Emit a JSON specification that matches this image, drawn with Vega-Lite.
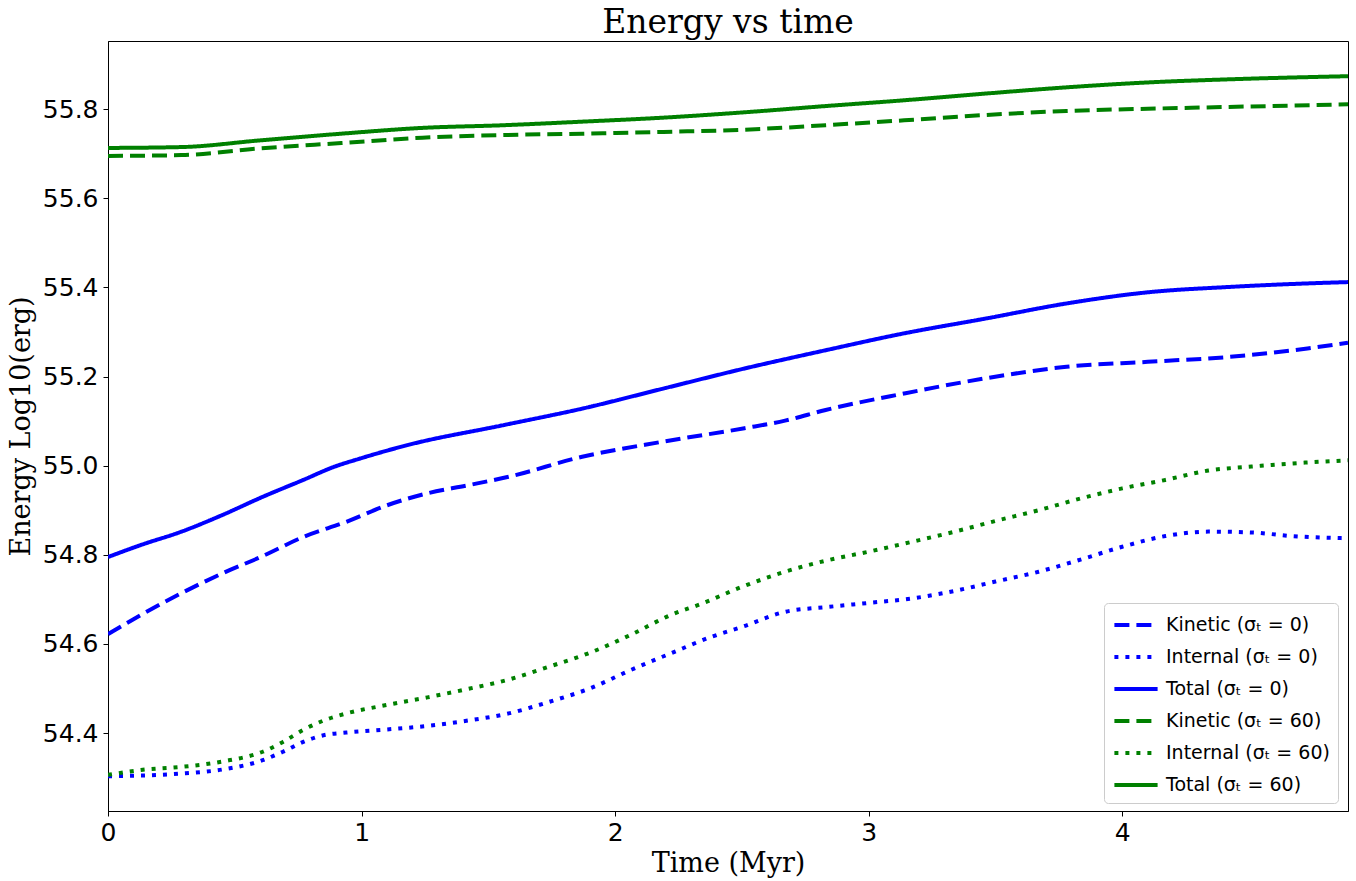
{
  "$schema": "https://vega.github.io/schema/vega-lite/v6.json",
  "width": 1240,
  "height": 770,
  "autosize": "none",
  "padding": {"left": 108, "top": 41, "right": 8, "bottom": 70},
  "background": "white",
  "title": {"text": "Energy vs time", "font": "DejaVu Serif", "fontSize": 33, "fontWeight": "normal", "color": "black", "offset": 1, "anchor": "middle"},
  "config": {
    "view": {"stroke": "black", "strokeWidth": 1},
    "axis": {"grid": false, "domainColor": "black", "tickColor": "black", "labelColor": "black", "titleColor": "black", "labelFont": "DejaVu Sans", "labelFontSize": 25, "titleFont": "DejaVu Serif", "titleFontSize": 27, "titleFontWeight": "normal", "tickSize": 5, "tickWidth": 1, "domainWidth": 1, "labelFlush": false}
  },
  "data": {"values": [
    {"s": "Kinetic (σₜ = 0)", "t": 0, "v": 54.622},
    {"s": "Kinetic (σₜ = 0)", "t": 0.13, "v": 54.665},
    {"s": "Kinetic (σₜ = 0)", "t": 0.29, "v": 54.714},
    {"s": "Kinetic (σₜ = 0)", "t": 0.45, "v": 54.758},
    {"s": "Kinetic (σₜ = 0)", "t": 0.61, "v": 54.797},
    {"s": "Kinetic (σₜ = 0)", "t": 0.77, "v": 54.840},
    {"s": "Kinetic (σₜ = 0)", "t": 0.94, "v": 54.874},
    {"s": "Kinetic (σₜ = 0)", "t": 1.10, "v": 54.911},
    {"s": "Kinetic (σₜ = 0)", "t": 1.26, "v": 54.938},
    {"s": "Kinetic (σₜ = 0)", "t": 1.42, "v": 54.956},
    {"s": "Kinetic (σₜ = 0)", "t": 1.58, "v": 54.975},
    {"s": "Kinetic (σₜ = 0)", "t": 1.87, "v": 55.020},
    {"s": "Kinetic (σₜ = 0)", "t": 2.19, "v": 55.054},
    {"s": "Kinetic (σₜ = 0)", "t": 2.51, "v": 55.084},
    {"s": "Kinetic (σₜ = 0)", "t": 2.67, "v": 55.101},
    {"s": "Kinetic (σₜ = 0)", "t": 2.83, "v": 55.125},
    {"s": "Kinetic (σₜ = 0)", "t": 3.14, "v": 55.162},
    {"s": "Kinetic (σₜ = 0)", "t": 3.46, "v": 55.196},
    {"s": "Kinetic (σₜ = 0)", "t": 3.78, "v": 55.222},
    {"s": "Kinetic (σₜ = 0)", "t": 4.10, "v": 55.233},
    {"s": "Kinetic (σₜ = 0)", "t": 4.42, "v": 55.244},
    {"s": "Kinetic (σₜ = 0)", "t": 4.73, "v": 55.263},
    {"s": "Kinetic (σₜ = 0)", "t": 4.89, "v": 55.276},

    {"s": "Internal (σₜ = 0)", "t": 0, "v": 54.303},
    {"s": "Internal (σₜ = 0)", "t": 0.29, "v": 54.309},
    {"s": "Internal (σₜ = 0)", "t": 0.45, "v": 54.318},
    {"s": "Internal (σₜ = 0)", "t": 0.61, "v": 54.339},
    {"s": "Internal (σₜ = 0)", "t": 0.69, "v": 54.358},
    {"s": "Internal (σₜ = 0)", "t": 0.77, "v": 54.380},
    {"s": "Internal (σₜ = 0)", "t": 0.85, "v": 54.395},
    {"s": "Internal (σₜ = 0)", "t": 0.94, "v": 54.401},
    {"s": "Internal (σₜ = 0)", "t": 1.10, "v": 54.408},
    {"s": "Internal (σₜ = 0)", "t": 1.26, "v": 54.416},
    {"s": "Internal (σₜ = 0)", "t": 1.42, "v": 54.428},
    {"s": "Internal (σₜ = 0)", "t": 1.58, "v": 54.444},
    {"s": "Internal (σₜ = 0)", "t": 1.74, "v": 54.470},
    {"s": "Internal (σₜ = 0)", "t": 1.90, "v": 54.500},
    {"s": "Internal (σₜ = 0)", "t": 2.06, "v": 54.541},
    {"s": "Internal (σₜ = 0)", "t": 2.22, "v": 54.579},
    {"s": "Internal (σₜ = 0)", "t": 2.38, "v": 54.616},
    {"s": "Internal (σₜ = 0)", "t": 2.50, "v": 54.638},
    {"s": "Internal (σₜ = 0)", "t": 2.67, "v": 54.672},
    {"s": "Internal (σₜ = 0)", "t": 2.84, "v": 54.683},
    {"s": "Internal (σₜ = 0)", "t": 3.00, "v": 54.692},
    {"s": "Internal (σₜ = 0)", "t": 3.17, "v": 54.702},
    {"s": "Internal (σₜ = 0)", "t": 3.34, "v": 54.719},
    {"s": "Internal (σₜ = 0)", "t": 3.50, "v": 54.740},
    {"s": "Internal (σₜ = 0)", "t": 3.67, "v": 54.762},
    {"s": "Internal (σₜ = 0)", "t": 3.84, "v": 54.790},
    {"s": "Internal (σₜ = 0)", "t": 4.00, "v": 54.818},
    {"s": "Internal (σₜ = 0)", "t": 4.17, "v": 54.842},
    {"s": "Internal (σₜ = 0)", "t": 4.34, "v": 54.852},
    {"s": "Internal (σₜ = 0)", "t": 4.51, "v": 54.850},
    {"s": "Internal (σₜ = 0)", "t": 4.67, "v": 54.842},
    {"s": "Internal (σₜ = 0)", "t": 4.89, "v": 54.837},

    {"s": "Total (σₜ = 0)", "t": 0, "v": 54.795},
    {"s": "Total (σₜ = 0)", "t": 0.13, "v": 54.822},
    {"s": "Total (σₜ = 0)", "t": 0.29, "v": 54.852},
    {"s": "Total (σₜ = 0)", "t": 0.45, "v": 54.889},
    {"s": "Total (σₜ = 0)", "t": 0.61, "v": 54.930},
    {"s": "Total (σₜ = 0)", "t": 0.77, "v": 54.968},
    {"s": "Total (σₜ = 0)", "t": 0.89, "v": 54.997},
    {"s": "Total (σₜ = 0)", "t": 1.00, "v": 55.017},
    {"s": "Total (σₜ = 0)", "t": 1.18, "v": 55.046},
    {"s": "Total (σₜ = 0)", "t": 1.56, "v": 55.091},
    {"s": "Total (σₜ = 0)", "t": 1.87, "v": 55.128},
    {"s": "Total (σₜ = 0)", "t": 2.19, "v": 55.173},
    {"s": "Total (σₜ = 0)", "t": 2.51, "v": 55.218},
    {"s": "Total (σₜ = 0)", "t": 2.83, "v": 55.259},
    {"s": "Total (σₜ = 0)", "t": 3.14, "v": 55.297},
    {"s": "Total (σₜ = 0)", "t": 3.46, "v": 55.330},
    {"s": "Total (σₜ = 0)", "t": 3.78, "v": 55.364},
    {"s": "Total (σₜ = 0)", "t": 4.10, "v": 55.389},
    {"s": "Total (σₜ = 0)", "t": 4.42, "v": 55.401},
    {"s": "Total (σₜ = 0)", "t": 4.73, "v": 55.409},
    {"s": "Total (σₜ = 0)", "t": 4.89, "v": 55.412},

    {"s": "Kinetic (σₜ = 60)", "t": 0, "v": 55.695},
    {"s": "Kinetic (σₜ = 60)", "t": 0.29, "v": 55.697},
    {"s": "Kinetic (σₜ = 60)", "t": 0.60, "v": 55.712},
    {"s": "Kinetic (σₜ = 60)", "t": 0.92, "v": 55.724},
    {"s": "Kinetic (σₜ = 60)", "t": 1.24, "v": 55.736},
    {"s": "Kinetic (σₜ = 60)", "t": 1.56, "v": 55.742},
    {"s": "Kinetic (σₜ = 60)", "t": 1.87, "v": 55.745},
    {"s": "Kinetic (σₜ = 60)", "t": 2.19, "v": 55.749},
    {"s": "Kinetic (σₜ = 60)", "t": 2.51, "v": 55.754},
    {"s": "Kinetic (σₜ = 60)", "t": 2.83, "v": 55.764},
    {"s": "Kinetic (σₜ = 60)", "t": 3.14, "v": 55.775},
    {"s": "Kinetic (σₜ = 60)", "t": 3.46, "v": 55.787},
    {"s": "Kinetic (σₜ = 60)", "t": 3.78, "v": 55.796},
    {"s": "Kinetic (σₜ = 60)", "t": 4.10, "v": 55.801},
    {"s": "Kinetic (σₜ = 60)", "t": 4.42, "v": 55.805},
    {"s": "Kinetic (σₜ = 60)", "t": 4.89, "v": 55.811},

    {"s": "Internal (σₜ = 60)", "t": 0, "v": 54.306},
    {"s": "Internal (σₜ = 60)", "t": 0.13, "v": 54.317},
    {"s": "Internal (σₜ = 60)", "t": 0.29, "v": 54.324},
    {"s": "Internal (σₜ = 60)", "t": 0.45, "v": 54.336},
    {"s": "Internal (σₜ = 60)", "t": 0.61, "v": 54.358},
    {"s": "Internal (σₜ = 60)", "t": 0.69, "v": 54.380},
    {"s": "Internal (σₜ = 60)", "t": 0.77, "v": 54.407},
    {"s": "Internal (σₜ = 60)", "t": 0.85, "v": 54.428},
    {"s": "Internal (σₜ = 60)", "t": 0.94, "v": 54.444},
    {"s": "Internal (σₜ = 60)", "t": 1.10, "v": 54.463},
    {"s": "Internal (σₜ = 60)", "t": 1.26, "v": 54.480},
    {"s": "Internal (σₜ = 60)", "t": 1.42, "v": 54.499},
    {"s": "Internal (σₜ = 60)", "t": 1.58, "v": 54.520},
    {"s": "Internal (σₜ = 60)", "t": 1.74, "v": 54.549},
    {"s": "Internal (σₜ = 60)", "t": 1.90, "v": 54.580},
    {"s": "Internal (σₜ = 60)", "t": 2.06, "v": 54.620},
    {"s": "Internal (σₜ = 60)", "t": 2.22, "v": 54.665},
    {"s": "Internal (σₜ = 60)", "t": 2.34, "v": 54.690},
    {"s": "Internal (σₜ = 60)", "t": 2.50, "v": 54.728},
    {"s": "Internal (σₜ = 60)", "t": 2.67, "v": 54.762},
    {"s": "Internal (σₜ = 60)", "t": 2.84, "v": 54.788},
    {"s": "Internal (σₜ = 60)", "t": 3.00, "v": 54.807},
    {"s": "Internal (σₜ = 60)", "t": 3.17, "v": 54.829},
    {"s": "Internal (σₜ = 60)", "t": 3.34, "v": 54.852},
    {"s": "Internal (σₜ = 60)", "t": 3.50, "v": 54.876},
    {"s": "Internal (σₜ = 60)", "t": 3.67, "v": 54.900},
    {"s": "Internal (σₜ = 60)", "t": 3.84, "v": 54.927},
    {"s": "Internal (σₜ = 60)", "t": 4.00, "v": 54.949},
    {"s": "Internal (σₜ = 60)", "t": 4.17, "v": 54.968},
    {"s": "Internal (σₜ = 60)", "t": 4.34, "v": 54.989},
    {"s": "Internal (σₜ = 60)", "t": 4.51, "v": 54.998},
    {"s": "Internal (σₜ = 60)", "t": 4.67, "v": 55.005},
    {"s": "Internal (σₜ = 60)", "t": 4.89, "v": 55.012},

    {"s": "Total (σₜ = 60)", "t": 0, "v": 55.713},
    {"s": "Total (σₜ = 60)", "t": 0.29, "v": 55.715},
    {"s": "Total (σₜ = 60)", "t": 0.60, "v": 55.730},
    {"s": "Total (σₜ = 60)", "t": 0.92, "v": 55.745},
    {"s": "Total (σₜ = 60)", "t": 1.24, "v": 55.758},
    {"s": "Total (σₜ = 60)", "t": 1.56, "v": 55.764},
    {"s": "Total (σₜ = 60)", "t": 1.87, "v": 55.772},
    {"s": "Total (σₜ = 60)", "t": 2.19, "v": 55.781},
    {"s": "Total (σₜ = 60)", "t": 2.51, "v": 55.793},
    {"s": "Total (σₜ = 60)", "t": 2.83, "v": 55.807},
    {"s": "Total (σₜ = 60)", "t": 3.14, "v": 55.820},
    {"s": "Total (σₜ = 60)", "t": 3.46, "v": 55.835},
    {"s": "Total (σₜ = 60)", "t": 3.78, "v": 55.849},
    {"s": "Total (σₜ = 60)", "t": 4.10, "v": 55.860},
    {"s": "Total (σₜ = 60)", "t": 4.42, "v": 55.867},
    {"s": "Total (σₜ = 60)", "t": 4.89, "v": 55.874}
  ]},
  "mark": {"type": "line", "strokeWidth": 4, "interpolate": "monotone", "clip": true},
  "encoding": {
    "x": {"field": "t", "type": "quantitative", "scale": {"domain": [0, 4.89], "nice": false, "zero": false},
      "axis": {"values": [0, 1, 2, 3, 4], "format": "d", "title": "Time (Myr)", "labelPadding": 4, "titlePadding": 5}},
    "y": {"field": "v", "type": "quantitative", "scale": {"domain": [54.225, 55.953], "nice": false, "zero": false},
      "axis": {"values": [54.4, 54.6, 54.8, 55.0, 55.2, 55.4, 55.6, 55.8], "format": ".1f", "title": "Energy Log10(erg)", "labelPadding": 5, "titlePadding": 7}},
    "color": {"field": "s", "type": "nominal",
      "scale": {"domain": ["Kinetic (σₜ = 0)", "Internal (σₜ = 0)", "Total (σₜ = 0)", "Kinetic (σₜ = 60)", "Internal (σₜ = 60)", "Total (σₜ = 60)"],
                "range": ["#0000ff", "#0000ff", "#0000ff", "#008000", "#008000", "#008000"]},
      "legend": {"title": null, "orient": "none", "legendX": 996, "legendY": 562, "labelFont": "DejaVu Sans", "labelFontSize": 19, "labelColor": "black", "labelLimit": 400,
        "symbolType": "M-1.8,0H1.8", "symbolSize": 576, "symbolStrokeWidth": 4, "symbolOffset": 10, "labelOffset": 16, "rowPadding": 8, "padding": 8,
        "fillColor": "rgba(255,255,255,0.8)", "strokeColor": "#cccccc", "cornerRadius": 4}},
    "strokeDash": {"field": "s", "type": "nominal",
      "scale": {"domain": ["Kinetic (σₜ = 0)", "Internal (σₜ = 0)", "Total (σₜ = 0)", "Kinetic (σₜ = 60)", "Internal (σₜ = 60)", "Total (σₜ = 60)"],
                "range": [[15, 7], [4, 7], [1, 0], [15, 7], [4, 7], [1, 0]]}}
  }
}
